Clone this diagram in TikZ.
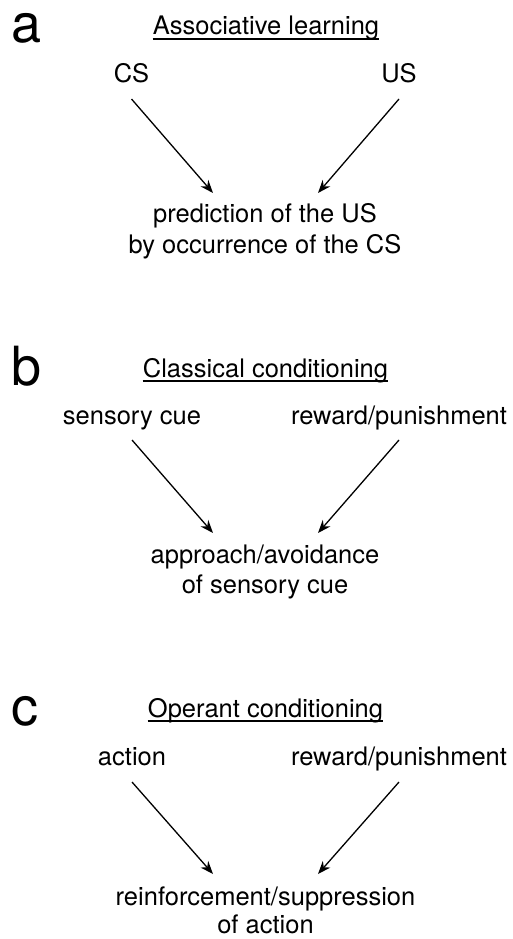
\documentclass[tikz,border=0pt]{standalone}
\usepackage{fontspec}
\setmainfont{TeX Gyre Heros}
\usetikzlibrary{arrows.meta}
\tikzset{
  txt/.style={inner sep=0pt, anchor=base, font=\fontsize{25.5}{30}\selectfont},
  panel/.style={inner sep=0pt, anchor=base west, font=\fontsize{54}{60}\selectfont},
  arr/.style={line width=1.3pt, -{Stealth[length=13pt,width=10pt]}},
  uline/.style={line width=1.1pt}
}
\begin{document}
\begin{tikzpicture}[x=1pt,y=1pt]
\useasboundingbox (0,0) rectangle (512,-939);
% ---- panel a
\node[panel] (la) at (11,-43) {a};
\node[txt] (ta) at (266,-35) {Associative learning};
\draw[uline] ([yshift=-4pt]ta.base west) -- ([yshift=-4pt]ta.base east);
\node[txt] (cs) at (131.5,-83) {CS};
\node[txt] (us) at (399,-83) {US};
\node[txt] (pa1) at (265,-222) {prediction of the US};
\node[txt] (pa2) at (265,-253) {by occurrence of the CS};
\draw[arr] ([yshift=-16pt]cs.base) -- ([xshift=-52pt,yshift=29pt]pa1.base);
\draw[arr] ([yshift=-16pt]us.base) -- ([xshift=53pt,yshift=29pt]pa1.base);
% ---- panel b
\node[panel] (lb) at (11,-385) {b};
\node[txt] (tb) at (265.5,-377) {Classical conditioning};
\draw[uline] ([yshift=-4pt]tb.base west) -- ([yshift=-4pt]tb.base east);
\node[txt] (sc) at (132,-424) {sensory cue};
\node[txt] (rb) at (399,-424) {reward/punishment};
\node[txt] (pb1) at (265,-563) {approach/avoidance};
\node[txt] (pb2) at (265,-593) {of sensory cue};
\draw[arr] ([yshift=-16pt]sc.base) -- ([xshift=-52pt,yshift=30pt]pb1.base);
\draw[arr] ([yshift=-16pt]rb.base) -- ([xshift=53pt,yshift=30pt]pb1.base);
% ---- panel c
\node[panel] (lc) at (11,-725) {c};
\node[txt] (tc) at (265.5,-717) {Operant conditioning};
\draw[uline] ([yshift=-4pt]tc.base west) -- ([yshift=-4pt]tc.base east);
\node[txt] (ac) at (132,-765) {action};
\node[txt] (rc) at (399,-765) {reward/punishment};
\node[txt] (pc1) at (265.5,-905) {reinforcement/suppression};
\node[txt] (pc2) at (265.5,-933) {of action};
\draw[arr] ([yshift=-17pt]ac.base) -- ([xshift=-52.5pt,yshift=31pt]pc1.base);
\draw[arr] ([yshift=-17pt]rc.base) -- ([xshift=52.5pt,yshift=31pt]pc1.base);
\end{tikzpicture}
\end{document}
